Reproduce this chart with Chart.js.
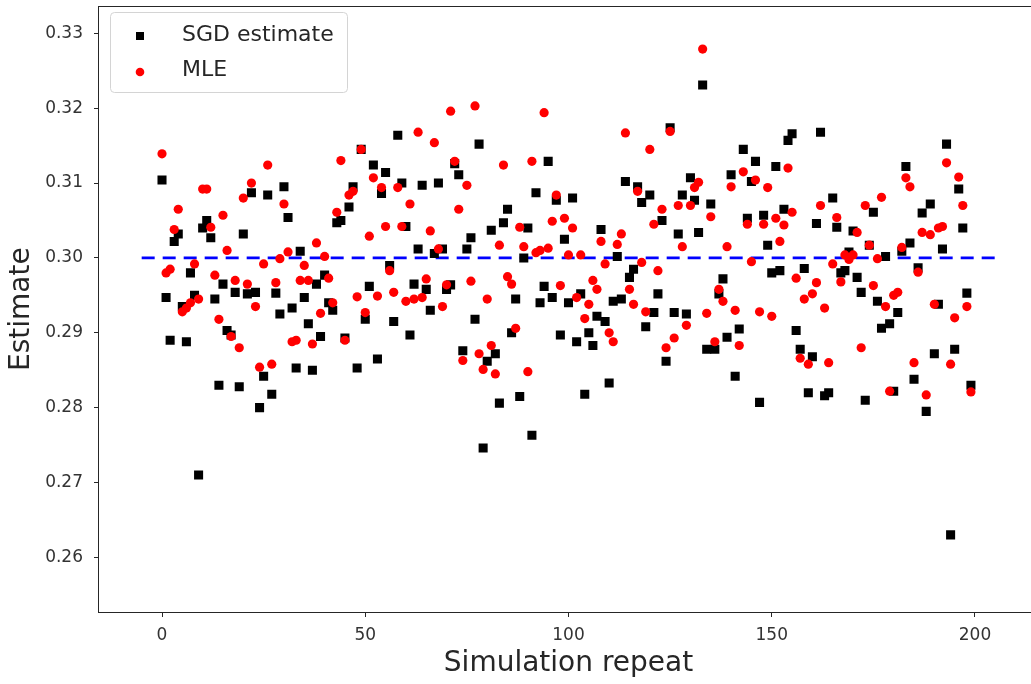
<!DOCTYPE html>
<html>
<head>
<meta charset="utf-8">
<script src="https://cdn.jsdelivr.net/npm/chart.js@4.4.1/dist/chart.umd.min.js"></script>
<style>
  html, body { margin: 0; padding: 0; background: #fff; overflow: hidden; }
  #wrap { width: 1048px; height: 684px; }
</style>
</head>
<body>
<div id="wrap"><canvas id="chart" width="1048" height="684"></canvas></div>
<script>
"use strict";

// Estimates per simulation repeat
const sgdEstimate = [
  0.3104, 0.2947, 0.2890, 0.3022, 0.3032, 0.2935, 0.2888, 0.2980, 0.2950, 0.2710,
  0.3040, 0.3050, 0.3027, 0.2945, 0.2830, 0.2965, 0.2903, 0.2897, 0.2954, 0.2828,
  0.3032, 0.2952, 0.3087, 0.2954, 0.2800, 0.2842, 0.3084, 0.2818, 0.2953, 0.2925,
  0.3095, 0.3054, 0.2933, 0.2853, 0.3009, 0.2947, 0.2912, 0.2850, 0.2965, 0.2895,
  0.2977, 0.2940, 0.2930, 0.3047, 0.3050, 0.2893, 0.3068, 0.3095, 0.2853, 0.3145,
  0.2918, 0.2962, 0.3124, 0.2865, 0.3086, 0.3114, 0.2990, 0.2915, 0.3164, 0.3100,
  0.3042, 0.2897, 0.2965, 0.3012, 0.3097, 0.2958, 0.2930, 0.3006, 0.3100, 0.3012,
  0.2958, 0.2964, 0.3126, 0.3111, 0.2876, 0.3012, 0.3027, 0.2918, 0.3152, 0.2746,
  0.2862, 0.3037, 0.2872, 0.2806, 0.3047, 0.3065, 0.2900, 0.2945, 0.2815, 0.3000,
  0.3040, 0.2763, 0.3087, 0.2940, 0.2962, 0.3129, 0.2947, 0.3077, 0.2897, 0.3025,
  0.2940, 0.3080, 0.2888, 0.2952, 0.2818, 0.2900, 0.2883, 0.2922, 0.3038, 0.2915,
  0.2833, 0.2942, 0.3002, 0.2945, 0.3102, 0.2974, 0.2985, 0.3095, 0.3074, 0.2908,
  0.3084, 0.2927, 0.2952, 0.3050, 0.2862, 0.3174, 0.2927, 0.3032, 0.3084, 0.2925,
  0.3107, 0.3077, 0.3034, 0.3231, 0.2878, 0.3072, 0.2878, 0.2952, 0.2972, 0.2894,
  0.3111, 0.2842, 0.2905, 0.3145, 0.3053, 0.3102, 0.3129, 0.2807, 0.3057, 0.3017,
  0.2980, 0.3122, 0.2983, 0.3065, 0.3157, 0.3166, 0.2903, 0.2878, 0.2986, 0.2820,
  0.2868, 0.3046, 0.3168, 0.2816, 0.2820, 0.3080, 0.3041, 0.2980, 0.2983, 0.3008,
  0.3036, 0.2974, 0.2954, 0.2810, 0.3017, 0.3061, 0.2942, 0.2906, 0.3002, 0.2912,
  0.2822, 0.2927, 0.3009, 0.3122, 0.3020, 0.2838, 0.2987, 0.3060, 0.2795, 0.3072,
  0.2872, 0.2938, 0.3012, 0.3152, 0.2630, 0.2878, 0.3092, 0.3040, 0.2953, 0.2830
];

const mleEstimate = [
  0.3139, 0.2980, 0.2985, 0.3038, 0.3065, 0.2928, 0.2933, 0.2940, 0.2992, 0.2945,
  0.3092, 0.3092, 0.3041, 0.2977, 0.2918, 0.3057, 0.3010, 0.2895, 0.2970, 0.2880,
  0.3080, 0.2965, 0.3100, 0.2935, 0.2854, 0.2992, 0.3124, 0.2858, 0.2967, 0.2999,
  0.3072, 0.3008, 0.2888, 0.2890, 0.2970, 0.2990, 0.2970, 0.2885, 0.3020, 0.2926,
  0.3002, 0.2973, 0.2940, 0.3061, 0.3130, 0.2890, 0.3084, 0.3089, 0.2948, 0.3145,
  0.2927, 0.3029, 0.3107, 0.2949, 0.3094, 0.3042, 0.2983, 0.2954, 0.3094, 0.3042,
  0.2942, 0.3072, 0.2945, 0.3168, 0.2947, 0.2972, 0.3036, 0.3154, 0.3012, 0.2935,
  0.2964, 0.3196, 0.3129, 0.3065, 0.2863, 0.3097, 0.2969, 0.3203, 0.2872, 0.2851,
  0.2945, 0.2883, 0.2845, 0.3017, 0.3124, 0.2975, 0.2965, 0.2906, 0.3041, 0.3015,
  0.2848, 0.3129, 0.3007, 0.3010, 0.3194, 0.3013, 0.3049, 0.3084, 0.2963, 0.3053,
  0.3004, 0.3040, 0.2947, 0.3004, 0.2919, 0.2938, 0.2970, 0.2958, 0.3022, 0.2992,
  0.2900, 0.2888, 0.3018, 0.3032, 0.3167, 0.2958, 0.2938, 0.3089, 0.2994, 0.2928,
  0.3145, 0.3045, 0.2983, 0.3065, 0.2880, 0.3169, 0.2893, 0.3070, 0.3015, 0.2910,
  0.3070, 0.3094, 0.3101, 0.3279, 0.2926, 0.3055, 0.2888, 0.2958, 0.2942, 0.3015,
  0.3095, 0.2930, 0.2883, 0.3115, 0.3045, 0.2995, 0.3104, 0.2928, 0.3045, 0.3094,
  0.2922, 0.3053, 0.3022, 0.3044, 0.3120, 0.3061, 0.2973, 0.2866, 0.2945, 0.2858,
  0.2952, 0.2967, 0.3070, 0.2933, 0.2860, 0.2992, 0.3054, 0.2968, 0.3004, 0.2998,
  0.3004, 0.3034, 0.2880, 0.3070, 0.3017, 0.2963, 0.2999, 0.3081, 0.2935, 0.2822,
  0.2950, 0.2954, 0.3014, 0.3107, 0.3095, 0.2860, 0.2981, 0.3034, 0.2817, 0.3031,
  0.2938, 0.3040, 0.3042, 0.3127, 0.2858, 0.2920, 0.3108, 0.3070, 0.2935, 0.2821
];

const repeats = sgdEstimate.map((_, i) => i);

// true parameter, drawn as the dashed reference line
const trueValue = 0.30;
const refLineX = [-5, 205];

const xTicks = [0, 50, 100, 150, 200];
const yTicks = [0.26, 0.27, 0.28, 0.29, 0.30, 0.31, 0.32, 0.33];

const FONT = "'DejaVu Sans', 'Liberation Sans', sans-serif";
const AXIS_COLOR = '#262626';

/**
 * Рамка осей (matplotlib-style spines) + легенда у лівому верхньому куті
 */
const framePlugin = {
    id: 'frame',
    beforeDatasetsDraw(chart) {
        const { ctx, chartArea: a } = chart;
        ctx.save();
        ctx.strokeStyle = AXIS_COLOR;
        ctx.lineWidth = 1;
        ctx.strokeRect(Math.round(a.left) - 0.5, Math.round(a.top) + 0.5,
                       Math.round(a.right - a.left) + 1, Math.round(a.bottom - a.top));
        ctx.restore();
    },
    afterDraw(chart) {
        const ctx = chart.ctx;
        // легенда в порядку масиву datasets (SGD першим)
        const items = chart.data.datasets.filter(d => d.showInLegend);
        const x = 110.5, y = 12.5, w = 237, h = 80, r = 4;

        ctx.save();
        ctx.beginPath();
        ctx.roundRect(x, y, w, h, r);
        ctx.fillStyle = 'rgba(255,255,255,0.85)';
        ctx.fill();
        ctx.strokeStyle = '#d4d4d4';
        ctx.lineWidth = 1;
        ctx.stroke();

        ctx.font = '22px ' + FONT;
        ctx.textBaseline = 'middle';
        ctx.textAlign = 'left';
        items.forEach((ds, k) => {
            const cy = 36 + k * 35;
            ctx.fillStyle = ds.backgroundColor;
            if (ds.pointStyle === 'rect') {
                ctx.fillRect(136, cy - 4, 8, 8);
            } else {
                ctx.beginPath();
                ctx.arc(140, cy + 1, 4.3, 0, Math.PI * 2);
                ctx.fill();
            }
            ctx.fillStyle = AXIS_COLOR;
            ctx.fillText(ds.label, 182, cy - 1);
        });
        ctx.restore();
    }
};

function toPoints(values) {
    return values.map((v, i) => ({ x: repeats[i], y: v }));
}

new Chart(document.getElementById('chart'), {
    type: 'scatter',
    data: {
        datasets: [
            {
                label: 'SGD estimate',
                data: toPoints(sgdEstimate),
                pointStyle: 'rect',
                pointRadius: 6.4,
                pointHoverRadius: 6.4,
                backgroundColor: '#000000',
                borderWidth: 0,
                order: 2,          // під червоними точками
                showInLegend: true
            },
            {
                label: 'MLE',
                data: toPoints(mleEstimate),
                pointStyle: 'circle',
                pointRadius: 4.6,
                pointHoverRadius: 4.6,
                backgroundColor: '#ff0000',
                borderWidth: 0,
                order: 1,          // малюється останнім, зверху
                showInLegend: true
            },
            {
                type: 'line',
                label: 'true value',
                data: refLineX.map(x => ({ x: x, y: trueValue })),
                borderColor: '#0000ff',
                borderWidth: 2.6,
                borderDash: [13, 8],
                pointRadius: 0,
                fill: false,
                order: 3
            }
        ]
    },
    options: {
        responsive: false,
        animation: false,
        devicePixelRatio: 1,
        layout: { padding: { top: 5, right: 10, left: 0, bottom: 0 } },
        plugins: {
            legend: { display: false },
            tooltip: { enabled: false }
        },
        scales: {
            x: {
                type: 'linear',
                min: -15.5,
                max: 215.5,
                afterBuildTicks: s => { s.ticks = xTicks.map(v => ({ value: v })); },
                afterFit: s => {
                    s.height = 72;
                    s.paddingLeft = 0; s.paddingRight = 0;
                },
                border: { display: false },
                grid: { drawOnChartArea: false, drawTicks: true, tickLength: 5, color: AXIS_COLOR },
                ticks: {
                    padding: 8,
                    color: '#333',
                    font: { family: FONT, size: 17 },
                    callback: v => String(v)
                },
                title: {
                    display: true,
                    text: 'Simulation repeat',
                    color: AXIS_COLOR,
                    font: { family: FONT, size: 28, lineHeight: 1.2 },
                    padding: { top: 0, bottom: 3 }
                }
            },
            y: {
                min: 0.2527,
                max: 0.3336,
                afterBuildTicks: s => { s.ticks = yTicks.map(v => ({ value: v })); },
                afterFit: s => {
                    s.width = 99;
                    s.paddingTop = 0; s.paddingBottom = 0;
                },
                border: { display: false },
                grid: { drawOnChartArea: false, drawTicks: true, tickLength: 5, color: AXIS_COLOR },
                ticks: {
                    padding: 11,
                    color: '#333',
                    font: { family: FONT, size: 17 },
                    callback: v => v.toFixed(2)
                },
                title: {
                    display: true,
                    text: 'Estimate',
                    color: AXIS_COLOR,
                    font: { family: FONT, size: 28, lineHeight: 1.2 },
                    padding: { top: 5, bottom: 0 }
                }
            }
        }
    },
    plugins: [framePlugin]
});
</script>
</body>
</html>
